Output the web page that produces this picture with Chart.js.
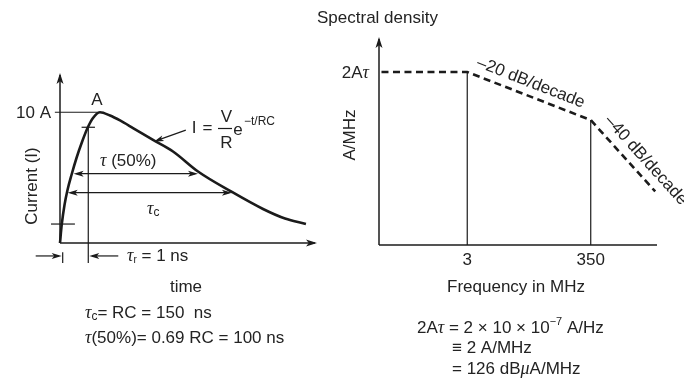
<!DOCTYPE html>
<html><head><meta charset="utf-8">
<script src="https://cdn.jsdelivr.net/npm/chart.js@4.4.0/dist/chart.umd.min.js"></script>
<style>
html,body{margin:0;padding:0;background:#fff;}
#wrap{position:relative;width:684px;height:378px;overflow:hidden;background:#fff;}
canvas{position:absolute;left:0;top:0;}
</style></head><body>
<div id="wrap"><canvas id="c1" width="684" height="378"></canvas><canvas id="c2" width="684" height="378"></canvas></div>
<script>
// ---------- Left panel: current pulse (time in arbitrary drawing units, current in A) ----------
const pulseTime    = [0, 0.66, 1.75, 2.92, 4.47, 6.42, 8.56, 10.7, 12.84, 15.56, 19.46, 23.35, 28.4, 36.19, 43.97, 53.7, 66.93, 79.0, 87.55, 95.7];
const pulseCurrent = [0, 1.38, 2.91, 4.05, 5.2, 6.5, 7.72, 8.79, 9.56, 10.0, 9.75, 9.37, 8.79, 7.88, 7.0, 5.47, 3.9, 2.6, 1.87, 1.45];
const peakLevel = 10;           // "10 A"
const peakTime = 15.56;
const riseMarkTime = 11.0;      // 90 % point marker
const riseStartTime = 1.05;     // 10 % point marker
const riseTopLevel = 8.85;
const riseLowLevel = 1.45;
const tau50Span = [5.3, 53.7];
const tau50Level = 5.3;
const tauCSpan = [3.0, 66.9];
const tauCLevel = 3.85;

// ---------- Right panel: spectral density ----------
const freqPoints = [0.11, 3, 350, 4200];          // MHz
const spectrumLevels = [126, 126, 91, 39];        // dBuA/MHz
const freqTicks = [3, 350];
const freqTickLabels = ['3', '350'];

const INK = '#1b1b1b';
const TXT = '#232323';
const SANS = "'Liberation Sans', Arial, Helvetica, sans-serif";
const SERIF = "'Liberation Serif', 'Times New Roman', serif";
Chart.defaults.font.family = SANS;

function arrowHead(ctx, x, y, ang, len, half) {
  len = len || 9; half = half || 3;
  ctx.save(); ctx.translate(x, y); ctx.rotate(ang);
  ctx.beginPath(); ctx.moveTo(0, 0); ctx.lineTo(-len, -half); ctx.lineTo(-len * 0.75, 0); ctx.lineTo(-len, half); ctx.closePath();
  ctx.fillStyle = INK; ctx.fill(); ctx.restore();
}
function line(ctx, x1, y1, x2, y2, w) {
  ctx.save(); ctx.strokeStyle = INK; ctx.lineWidth = w || 1.2;
  ctx.beginPath(); ctx.moveTo(x1, y1); ctx.lineTo(x2, y2); ctx.stroke(); ctx.restore();
}
// rich text: segments [{t, f, dy}]
function rich(ctx, x, y, segs, align) {
  ctx.save(); ctx.fillStyle = TXT; ctx.textBaseline = 'middle'; ctx.textAlign = 'left';
  let total = 0;
  segs.forEach(s => { ctx.font = s.f; total += ctx.measureText(s.t).width; });
  let cx = x;
  if (align === 'center') cx = x - total / 2;
  if (align === 'right') cx = x - total;
  segs.forEach(s => { ctx.font = s.f; ctx.fillText(s.t, cx, y + (s.dy || 0)); cx += ctx.measureText(s.t).width; });
  ctx.restore();
}
function text(ctx, str, x, y, font, align, rot) {
  ctx.save(); ctx.fillStyle = TXT; ctx.font = font; ctx.textAlign = align || 'left'; ctx.textBaseline = 'middle';
  ctx.translate(x, y); if (rot) ctx.rotate(rot); ctx.fillText(str, 0, 0); ctx.restore();
}
const F = s => s + 'px ' + SANS;
const FI = s => 'italic ' + s + 'px ' + SERIF;

const baseDs = { showLine: true, pointRadius: 0, borderColor: INK, clip: false, fill: false };

// ---------------- Left chart ----------------
const leftPlugin = {
  id: 'leftDeco',
  afterDatasetsDraw(chart) {
    const ctx = chart.ctx, xs = chart.scales.x, ys = chart.scales.y;
    const X = v => xs.getPixelForValue(v), Y = v => ys.getPixelForValue(v);
    // axes
    line(ctx, X(0), Y(0), X(0), Y(ys.max) + 2, 1.5);
    arrowHead(ctx, X(0), Y(ys.max), -Math.PI / 2, 11, 3.5);
    line(ctx, X(0), Y(0), X(xs.max) - 2, Y(0), 1.5);
    arrowHead(ctx, X(xs.max), Y(0), 0, 11, 3.5);
    // tau arrows
    [[tau50Span, tau50Level], [tauCSpan, tauCLevel]].forEach(([sp, lv]) => {
      line(ctx, X(sp[0]) + 3, Y(lv), X(sp[1]) - 3, Y(lv), 1.2);
      arrowHead(ctx, X(sp[0]), Y(lv), Math.PI, 10, 3);
      arrowHead(ctx, X(sp[1]), Y(lv), 0, 10, 3);
    });
    // rise-time arrows below axis
    const ya = Y(-0.99);
    line(ctx, X(riseStartTime) - 27, ya, X(riseStartTime) - 4, ya, 1.2);
    arrowHead(ctx, X(riseStartTime) - 1, ya, 0, 10, 3);
    line(ctx, X(riseMarkTime) + 4, ya, X(riseMarkTime) + 30, ya, 1.2);
    arrowHead(ctx, X(riseMarkTime) + 1, ya, Math.PI, 10, 3);
    // formula pointer
    const tip = { x: X(36.5), y: Y(7.75) };
    line(ctx, tip.x + 32, tip.y - 11.5, tip.x + 4, tip.y - 1.5, 1.2);
    arrowHead(ctx, tip.x, tip.y, Math.atan2(11.5, -32), 10, 3);

    // labels
    text(ctx, '10 A', X(0) - 9, Y(peakLevel) + 1, F(17), 'right');
    text(ctx, 'A', X(peakTime) - 3, Y(peakLevel) - 12, F(17), 'center');
    text(ctx, 'Current (I)', 32, 186, F(17), 'center', -Math.PI / 2);
    rich(ctx, 100, 161, [{ t: 'τ', f: FI(18) }, { t: ' (50%)', f: F(17) }]);
    rich(ctx, 147, 209, [{ t: 'τ', f: FI(18) }, { t: 'c', f: F(12), dy: 4 }]);
    // formula
    text(ctx, 'I', 194, 128, F(17), 'center');
    text(ctx, '=', 207.5, 128, F(17), 'center');
    line(ctx, 218, 128.5, 232, 128.5, 1.2);
    text(ctx, 'V', 226.5, 117, F(17), 'center');
    text(ctx, 'R', 226.5, 143.5, F(17), 'center');
    text(ctx, 'e', 238, 130, F(17), 'center');
    text(ctx, '−t/RC', 244, 121.5, F(12), 'left');
    // tau_r
    rich(ctx, 127, 256, [{ t: 'τ', f: FI(18) }, { t: 'r', f: F(10), dy: 4 }, { t: ' = 1 ns', f: F(17) }]);
    text(ctx, 'time', 186, 287, F(17), 'center');
    rich(ctx, 85, 313, [{ t: 'τ', f: FI(18) }, { t: 'c', f: F(12), dy: 4 }, { t: '= RC = 150  ns', f: F(17) }]);
    rich(ctx, 85, 338, [{ t: 'τ', f: FI(18) }, { t: '(50%)= 0.69 RC = 100 ns', f: F(17) }]);
  }
};

new Chart(document.getElementById('c1'), {
  type: 'scatter',
  data: {
    datasets: [
      Object.assign({}, baseDs, { data: pulseTime.map((t, i) => ({ x: t, y: pulseCurrent[i] })), borderWidth: 2.6, cubicInterpolationMode: 'monotone' }),
      Object.assign({}, baseDs, { data: [{ x: -2, y: peakLevel }, { x: peakTime, y: peakLevel }], borderWidth: 1.2 }),
      Object.assign({}, baseDs, { data: [{ x: riseMarkTime, y: riseTopLevel }, { x: riseMarkTime, y: -1.53 }], borderWidth: 1.2 }),
      Object.assign({}, baseDs, { data: [{ x: 8.4, y: riseTopLevel }, { x: 13.6, y: riseTopLevel }], borderWidth: 1.2 }),
      Object.assign({}, baseDs, { data: [{ x: -3.5, y: riseLowLevel }, { x: 5.8, y: riseLowLevel }], borderWidth: 1.2 }),
      Object.assign({}, baseDs, { data: [{ x: riseStartTime, y: -0.7 }, { x: riseStartTime, y: -1.53 }], borderWidth: 1.2 })
    ]
  },
  options: {
    responsive: false, animation: false, devicePixelRatio: 1, events: [],
    layout: { padding: { left: 60, right: 367, top: 73, bottom: 135 } },
    plugins: { legend: { display: false }, tooltip: { enabled: false } },
    scales: {
      x: { type: 'linear', min: 0, max: 100, display: false },
      y: { type: 'linear', min: 0, max: 13, display: false }
    }
  },
  plugins: [leftPlugin]
});

// ---------------- Right chart ----------------
const rightPlugin = {
  id: 'rightDeco',
  afterDatasetsDraw(chart) {
    const ctx = chart.ctx, xs = chart.scales.x, ys = chart.scales.y;
    const X = v => xs.getPixelForValue(v), Y = v => ys.getPixelForValue(v);
    line(ctx, X(xs.min), Y(0), X(xs.min), Y(ys.max) + 2, 1.5);
    arrowHead(ctx, X(xs.min), Y(ys.max), -Math.PI / 2, 11, 3.5);
    line(ctx, X(xs.min), Y(0), X(xs.max), Y(0), 1.5);
    freqTicks.forEach((f, i) => text(ctx, freqTickLabels[i], X(f), Y(0) + 15, F(17), 'center'));
    text(ctx, 'Frequency in MHz', 516, 287, F(17), 'center');
    text(ctx, 'Spectral density', 317, 18, F(17), 'left');
    rich(ctx, 369, Y(spectrumLevels[0]) + 1, [{ t: '2A', f: F(17) }, { t: 'τ', f: FI(18) }], 'right');
    text(ctx, 'A/MHz', 350, 135, F(17), 'center', -Math.PI / 2);
    // slope labels
    const seg = (i, t, d, str) => {
      const x1 = X(freqPoints[i]), y1 = Y(spectrumLevels[i]);
      const x2 = X(freqPoints[i + 1]), y2 = Y(spectrumLevels[i + 1]);
      const L = Math.hypot(x2 - x1, y2 - y1), ux = (x2 - x1) / L, uy = (y2 - y1) / L;
      const px = x1 + (x2 - x1) * t + uy * d, py = y1 + (y2 - y1) * t - ux * d;
      text(ctx, str, px, py, F(17), 'left', Math.atan2(uy, ux));
    };
    seg(1, 0.045, 13, '–20 dB/decade');
    seg(2, 0.10, 14, '–40 dB/decade');
    // bottom notes
    rich(ctx, 417, 328, [{ t: '2A', f: F(17) }, { t: 'τ', f: FI(18) }, { t: ' = 2 × 10 × 10', f: F(17) }, { t: '−7', f: F(11), dy: -6 }, { t: ' A/Hz', f: F(17) }]);
    text(ctx, '≡ 2 A/MHz', 452, 348, F(17), 'left');
    rich(ctx, 452, 369, [{ t: '= 126 dB', f: F(17) }, { t: 'μ', f: FI(18) }, { t: 'A/MHz', f: F(17) }]);
  }
};

new Chart(document.getElementById('c2'), {
  type: 'scatter',
  data: {
    datasets: [
      Object.assign({}, baseDs, { data: freqPoints.map((f, i) => ({ x: f, y: spectrumLevels[i] })), borderWidth: 2.6, borderDash: [7, 4.5] }),
      Object.assign({}, baseDs, { data: [{ x: freqTicks[0], y: 0 }, { x: freqTicks[0], y: spectrumLevels[1] }], borderWidth: 1.2 }),
      Object.assign({}, baseDs, { data: [{ x: freqTicks[1], y: 0 }, { x: freqTicks[1], y: spectrumLevels[2] }], borderWidth: 1.2 })
    ]
  },
  options: {
    responsive: false, animation: false, devicePixelRatio: 1, events: [],
    layout: { padding: { left: 379, right: 27, top: 37, bottom: 133 } },
    plugins: { legend: { display: false }, tooltip: { enabled: false } },
    scales: {
      x: { type: 'logarithmic', min: 0.1, max: 4500, display: false },
      y: { type: 'linear', min: 0, max: 151.5, display: false }
    }
  },
  plugins: [rightPlugin]
});
</script>
</body></html>
